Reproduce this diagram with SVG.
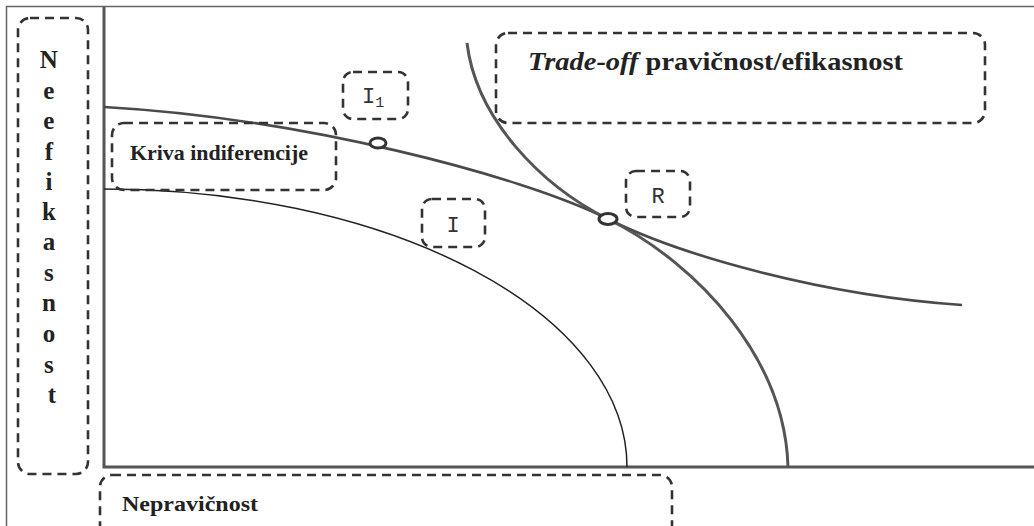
<svg xmlns="http://www.w3.org/2000/svg" width="1034" height="526" viewBox="0 0 1034 526">
  <style>
    .box { fill: none; stroke: #333; stroke-width: 2.6; stroke-dasharray: 9 6; }
    .lbl { font-family: "Liberation Serif", "Times New Roman", serif; font-weight: bold; fill: #222; }
    .sym { font-family: "Liberation Mono", "Courier New", monospace; fill: #333; }
    .axis { stroke: #555; stroke-width: 3; fill: none; }
    .pt { fill: #fff; stroke: #333; stroke-width: 3; }
  </style>
  <rect x="0" y="0" width="1034" height="526" fill="#fff"/>
  <!-- outer frame -->
  <rect x="6.5" y="6.5" width="1040" height="540" fill="none" stroke="#666" stroke-width="1.5"/>

  <!-- axes -->
  <g id="axes">
    <path class="axis" d="M104,7 V467 H1034"/>
  </g>

  <!-- curves -->
  <g id="connectors">
    <!-- indifference curve I1 -->
    <path d="M104,107 C300,118 520,175 608,219 C680,255 820,295 962,305" fill="none" stroke="#4a4a4a" stroke-width="2.6"/>
    <!-- indifference curve I -->
    <path d="M104,189 A523,278 0 0 1 627,467" fill="none" stroke="#222" stroke-width="1.5"/>
    <!-- trade-off frontier -->
    <path d="M467,43 C476,118 540,185 608,219 C700,265 785,360 788,467" fill="none" stroke="#555" stroke-width="3"/>
  </g>

  <!-- points -->
  <g id="points">
    <ellipse class="pt" cx="378" cy="143" rx="8" ry="5"/>
    <ellipse class="pt" cx="608" cy="219" rx="9" ry="5.5"/>
  </g>

  <!-- vertical axis label -->
  <g id="neefikasnost">
    <rect class="box" x="18" y="18" width="70" height="456" rx="12"/>
    <text class="lbl" font-size="25" text-anchor="middle">
      <tspan x="52" y="68">N</tspan>
      <tspan x="52" y="99">e</tspan>
      <tspan x="52" y="129">e</tspan>
      <tspan x="52" y="160">f</tspan>
      <tspan x="52" y="190">i</tspan>
      <tspan x="52" y="220">k</tspan>
      <tspan x="52" y="250">a</tspan>
      <tspan x="52" y="281">s</tspan>
      <tspan x="52" y="311">n</tspan>
      <tspan x="52" y="342">o</tspan>
      <tspan x="52" y="373">s</tspan>
      <tspan x="52" y="403">t</tspan>
    </text>
  </g>

  <!-- horizontal axis label -->
  <g id="nepravicnost">
    <rect class="box" x="100" y="475" width="572" height="62" rx="12"/>
    <text class="lbl" font-size="22" x="122" y="511" textLength="136" lengthAdjust="spacingAndGlyphs">Nepravičnost</text>
  </g>

  <g id="kriva">
    <rect class="box" x="112" y="123" width="224" height="67" rx="12"/>
    <text class="lbl" font-size="21" x="130" y="160" textLength="178" lengthAdjust="spacingAndGlyphs">Kriva indiferencije</text>
  </g>

  <g id="tradeoff">
    <rect class="box" x="496" y="33" width="489" height="90" rx="12"/>
    <text class="lbl" font-size="25" x="528" y="70" textLength="375" lengthAdjust="spacingAndGlyphs"><tspan font-style="italic">Trade-off</tspan> pravičnost/efikasnost</text>
  </g>

  <g id="label-i1">
    <rect class="box" x="343" y="72" width="65" height="47" rx="10"/>
    <text class="sym" font-size="22" x="362" y="103">I<tspan font-size="15" dy="4">1</tspan></text>
  </g>

  <g id="label-i">
    <rect class="box" x="422" y="199" width="63" height="48" rx="10"/>
    <text class="sym" font-size="22" x="453" y="232" text-anchor="middle">I</text>
  </g>

  <g id="label-r">
    <rect class="box" x="626" y="171" width="64" height="46" rx="10"/>
    <text class="sym" font-size="22" x="658" y="203" text-anchor="middle">R</text>
  </g>
</svg>
